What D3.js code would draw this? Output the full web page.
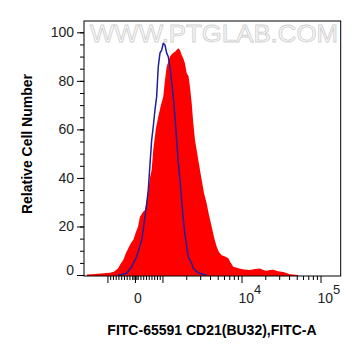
<!DOCTYPE html>
<html><head><meta charset="utf-8">
<script src="https://cdn.jsdelivr.net/npm/d3@7"></script>
<style>body{margin:0;background:#fff}svg{display:block}</style>
</head><body><svg id="c" width="361" height="356"></svg>
<script>
// Stained sample (red, filled)
const redX = [-1818,-1439,-1107,-909,-764,-618,-509,-425,-327,-218,-145,-62,36,109,182,291,364,436,484,545,607,665,764,847,945,1024,1076,1130,1244,1358,1439,1585,1665,1750,1845,1927,2025,2134,2229,2342,2454,2579,2710,2839,3135,3352,3626,3878,4196,4486,4854,5190,5616,6182,6806,7363,7875,9111,10750,12810,14830,17150,18720,20840,22950,25270,28970,33810,41110,51900];
const redY = [0.2,0.4,0.7,0.9,1.4,2.7,4.9,6.2,9.1,11.5,13.2,14.4,17.7,19.8,24.0,26.0,26.8,30.9,35.0,40.0,43.3,51.5,60.6,65.2,70.1,73.5,80.4,85.8,90.0,91.5,92.0,93.4,92.7,90.7,89.0,87.2,83.1,82.0,77.6,70.9,62.6,55.6,51.5,47.4,39.2,33.8,29.5,24.7,19.9,15.7,11.7,9.5,8.2,7.6,6.9,4.9,3.4,2.8,2.3,2.1,2.5,2.7,2.1,1.8,2.1,2.2,1.6,1.2,0.3,0];
// Control (blue line)
const blueX = [-618,-484,-302,-120,-36,62,145,244,309,364,425,484,545,607,665,727,789,847,909,971,1024,1076,1130,1184,1244,1307,1370,1439,1512,1585,1665,1750,1834,1927,2025,2121,2342,2454,2710,2984,3626];
const blueY = [0,0.2,0.7,3.4,5.4,7.5,10.7,14.4,19.4,24.0,29.3,35.0,45.3,55.6,61.1,68.0,73.5,85.8,91.4,92.7,95.5,94.8,91.4,90.0,85.8,79.5,73.5,65.2,55.6,46.2,39.2,30.9,22.7,16.5,11.7,7.5,4.8,2.8,1.4,0.6,0];

const yTicks = [0,20,40,60,80,100];
const xMajorTicks = [-1000,0,1000,10000,100000];
const xLabelValues = [0,10000,100000];
const xLabelBase = ["0","10","10"];
const xLabelExp = ["","4","5"];
const xDomain = [-1980,180000];
const yDomain = [-0.4,104.66];
const xTitle = "FITC-65591  CD21(BU32),FITC-A";
const yTitle = "Relative Cell Number";
const watermark = "WWW.PTGLAB.COM";

// biexponential-like display transform: linear near zero, log above 10^3
const LIN = 1000, L = 27.5/79;
function T(v){ const a = Math.abs(v); return Math.sign(v)*(a<=LIN ? a/LIN*L : L+Math.log10(a/LIN)); }

const pLeft=84, pRight=340.7, pTop=21, pBottom=276;
const xT = d3.scaleLinear().domain(xDomain.map(T)).range([pLeft,pRight]);
const x = v => xT(T(v));
const y = d3.scaleLinear().domain(yDomain).range([pBottom,pTop]);

const minor = [];
for (let v=-900; v<=900; v+=100) if (v!==0) minor.push(v);
for (let d=1000; d<=10000; d*=10) for (let m=2; m<=9; m++) minor.push(m*d);
minor.push(-50,50);

const svg = d3.select("#c");
const font = "Liberation Sans, Arial, Helvetica, sans-serif";

// watermark
svg.append("text").attr("x",90).attr("y",42).attr("textLength",248).attr("lengthAdjust","spacingAndGlyphs")
  .attr("font-family",font).attr("font-size",23).attr("fill","#fbfbfb").attr("stroke","#d0d0d0").attr("stroke-width",0.8)
  .text(watermark);

const area = d3.area().x((d,i)=>x(redX[i])).y0(y(yDomain[0])).y1(d=>y(d));
svg.append("path").datum(redY).attr("d",area).attr("fill","#ff0000");

const line = d3.line().x((d,i)=>x(blueX[i])).y(d=>y(d));
svg.append("path").datum(blueY).attr("d",line).attr("fill","none").attr("stroke","#1f1f9c").attr("stroke-width",1.5).attr("stroke-linejoin","round");

// frame
svg.append("rect").attr("x",pLeft).attr("y",pTop).attr("width",pRight-pLeft).attr("height",pBottom-pTop)
  .attr("fill","none").attr("stroke","#000").attr("stroke-width",1);

// x axis ticks
const gx = svg.append("g").attr("transform",`translate(0,${pBottom})`);
gx.call(d3.axisBottom(xT).tickValues(minor.filter(v=>v>=xDomain[0]&&v<=xDomain[1]).map(T)).tickSize(4).tickFormat(""));
const gx2 = svg.append("g").attr("transform",`translate(0,${pBottom})`);
gx2.call(d3.axisBottom(xT).tickValues(xMajorTicks.map(T)).tickSize(7).tickFormat(""));
[gx,gx2].forEach(g=>{g.select(".domain").remove(); g.selectAll("line").attr("stroke","#000");});

xLabelValues.forEach((v,i)=>{
  const t = svg.append("text").attr("font-family",font).attr("font-size",14).attr("fill","#222").attr("y",303);
  if (xLabelExp[i]==="") {
    t.attr("x",x(v)+3).attr("text-anchor","middle").text(xLabelBase[i]);
  } else {
    t.attr("x",x(v)-3).attr("text-anchor","start");
    t.append("tspan").text(xLabelBase[i]);
    t.append("tspan").attr("dy",-9).attr("font-size",13).text(xLabelExp[i]);
  }
});

// y axis
const gy = svg.append("g").attr("transform",`translate(${pLeft},0)`);
gy.call(d3.axisLeft(y).tickValues(d3.range(0,101,5)).tickSize(4).tickFormat(""));
const gy2 = svg.append("g").attr("transform",`translate(${pLeft},0)`);
gy2.call(d3.axisLeft(y).tickValues(yTicks).tickSize(7).tickPadding(3).tickFormat(d3.format("d")));
[gy,gy2].forEach(g=>{g.select(".domain").remove(); g.selectAll("line").attr("stroke","#000");});
gy2.selectAll("text").attr("font-family",font).attr("font-size",14).attr("fill","#222")
  .attr("dy",d=>d===0?"-0.05em":"0.32em");

// titles
svg.append("text").attr("x",212).attr("y",335).attr("text-anchor","middle").attr("font-family",font)
  .attr("font-weight","bold").attr("font-size",14).attr("fill","#000").text(xTitle);
svg.append("text").attr("transform","translate(32,144) rotate(-90)").attr("text-anchor","middle").attr("font-family",font)
  .attr("font-weight","bold").attr("font-size",14).attr("fill","#000").text(yTitle);
</script>
</body></html>
